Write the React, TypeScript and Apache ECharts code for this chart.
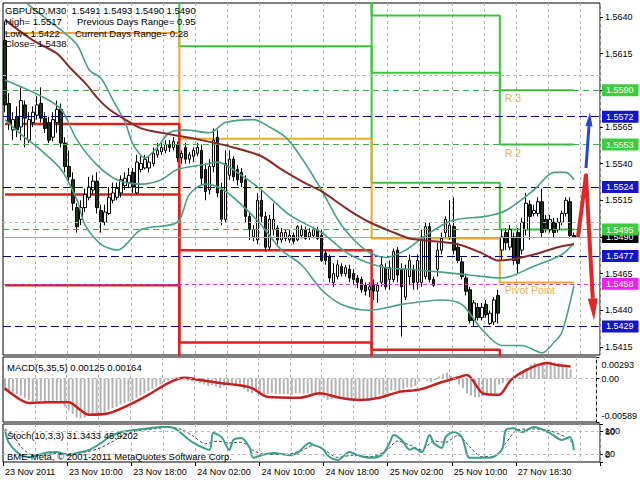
import React, { useEffect, useRef } from 'react';
import * as echarts from 'echarts';

// ---------- DATA ----------
const N = 149; // bar slots incl. right shift area
const barKeys: string[] = Array.from({ length: N }, (_, i) => String(i));

const timeTicks: [number, string][] = [
  [0, '23 Nov 2011'], [16, '23 Nov 10:00'], [32, '23 Nov 18:00'], [48, '24 Nov 02:00'],
  [64, '24 Nov 10:00'], [80, '24 Nov 18:00'], [96, '25 Nov 02:00'], [112, '25 Nov 10:00'], [128, '27 Nov 18:30'],
];

// [open, close, low, high]
const candles: number[][] = [
  [1.5624,1.5580,1.5575,1.5637],[1.5581,1.5568,1.5563,1.5588],[1.5563,1.5570,1.5556,1.5575],[1.5572,1.5563,1.5558,1.5579],
  [1.5565,1.5583,1.5556,1.5592],[1.5580,1.5571,1.5551,1.5583],[1.5556,1.5570,1.5554,1.5575],[1.5568,1.5575,1.5565,1.5579],
  [1.5573,1.5580,1.5570,1.5586],[1.5581,1.5571,1.5568,1.5592],[1.5571,1.5564,1.5561,1.5575],[1.5568,1.5556,1.5554,1.5572],
  [1.5558,1.5570,1.5555,1.5575],[1.5568,1.5577,1.5561,1.5583],[1.5577,1.5554,1.5551,1.5581],[1.5554,1.5538,1.5534,1.5558],
  [1.5538,1.5531,1.5527,1.5549],[1.5529,1.5513,1.5508,1.5534],[1.5510,1.5497,1.5493,1.5513],[1.5502,1.5510,1.5498,1.5515],
  [1.5510,1.5519,1.5507,1.5523],[1.5517,1.5524,1.5515,1.5531],[1.5522,1.5528,1.5519,1.5532],[1.5528,1.5510,1.5506,1.5534],
  [1.5508,1.5500,1.5493,1.5512],[1.5500,1.5507,1.5498,1.5512],[1.5506,1.5517,1.5505,1.5524],[1.5515,1.5520,1.5513,1.5527],
  [1.5517,1.5523,1.5515,1.5527],[1.5520,1.5529,1.5517,1.5532],[1.5525,1.5530,1.5522,1.5534],[1.5527,1.5532,1.5524,1.5537],
  [1.5534,1.5524,1.5520,1.5537],[1.5520,1.5541,1.5519,1.5546],[1.5536,1.5540,1.5534,1.5545],[1.5537,1.5543,1.5536,1.5546],
  [1.5537,1.5541,1.5534,1.5545],[1.5540,1.5547,1.5538,1.5551],[1.5546,1.5549,1.5544,1.5554],[1.5548,1.5551,1.5546,1.5554],
  [1.5549,1.5553,1.5547,1.5556],[1.5553,1.5551,1.5548,1.5556],[1.5551,1.5555,1.5549,1.5558],[1.5553,1.5544,1.5541,1.5555],
  [1.5544,1.5547,1.5540,1.5549],[1.5551,1.5543,1.5540,1.5554],[1.5543,1.5546,1.5540,1.5548],[1.5545,1.5549,1.5541,1.5551],
  [1.5547,1.5551,1.5545,1.5554],[1.5549,1.5530,1.5525,1.5553],[1.5536,1.5521,1.5515,1.5540],[1.5522,1.5538,1.5519,1.5543],
  [1.5538,1.5556,1.5534,1.5564],[1.5558,1.5520,1.5517,1.5563],[1.5522,1.5502,1.5498,1.5527],[1.5502,1.5540,1.5500,1.5549],
  [1.5532,1.5543,1.5529,1.5549],[1.5543,1.5531,1.5528,1.5545],[1.5536,1.5529,1.5525,1.5539],[1.5534,1.5527,1.5524,1.5537],
  [1.5529,1.5504,1.5500,1.5532],[1.5504,1.5495,1.5488,1.5507],[1.5490,1.5495,1.5487,1.5498],[1.5488,1.5515,1.5485,1.5520],
  [1.5515,1.5504,1.5500,1.5522],[1.5504,1.5483,1.5480,1.5507],[1.5483,1.5502,1.5481,1.5505],[1.5495,1.5502,1.5491,1.5513],
  [1.5496,1.5488,1.5485,1.5498],[1.5488,1.5493,1.5486,1.5496],[1.5489,1.5493,1.5487,1.5495],[1.5488,1.5491,1.5486,1.5495],
  [1.5491,1.5487,1.5485,1.5493],[1.5488,1.5497,1.5487,1.5498],[1.5491,1.5495,1.5489,1.5498],[1.5495,1.5489,1.5488,1.5497],
  [1.5490,1.5493,1.5488,1.5496],[1.5491,1.5495,1.5489,1.5497],[1.5495,1.5489,1.5488,1.5497],[1.5491,1.5474,1.5473,1.5495],
  [1.5479,1.5474,1.5471,1.5481],[1.5476,1.5462,1.5459,1.5478],[1.5459,1.5465,1.5456,1.5472],[1.5463,1.5471,1.5461,1.5474],
  [1.5470,1.5465,1.5463,1.5472],[1.5465,1.5469,1.5463,1.5471],[1.5468,1.5462,1.5459,1.5471],[1.5465,1.5461,1.5457,1.5468],
  [1.5462,1.5459,1.5455,1.5464],[1.5461,1.5454,1.5452,1.5463],[1.5457,1.5453,1.5450,1.5459],[1.5454,1.5456,1.5449,1.5459],
  [1.5457,1.5453,1.5447,1.5461],[1.5453,1.5457,1.5445,1.5459],[1.5459,1.5471,1.5456,1.5476],[1.5469,1.5456,1.5454,1.5472],
  [1.5461,1.5469,1.5454,1.5474],[1.5461,1.5480,1.5459,1.5482],[1.5481,1.5464,1.5459,1.5483],[1.5468,1.5456,1.5422,1.5472],
  [1.5449,1.5468,1.5447,1.5471],[1.5463,1.5474,1.5457,1.5478],[1.5468,1.5459,1.5454,1.5471],[1.5459,1.5474,1.5454,1.5478],
  [1.5459,1.5490,1.5456,1.5495],[1.5463,1.5497,1.5461,1.5500],[1.5497,1.5461,1.5459,1.5500],[1.5461,1.5457,1.5456,1.5463],
  [1.5468,1.5481,1.5463,1.5486],[1.5481,1.5489,1.5478,1.5493],[1.5493,1.5502,1.5490,1.5504],[1.5490,1.5498,1.5488,1.5515],
  [1.5497,1.5481,1.5478,1.5517],[1.5483,1.5474,1.5472,1.5486],[1.5473,1.5463,1.5461,1.5476],[1.5462,1.5453,1.5450,1.5465],
  [1.5454,1.5433,1.5431,1.5456],[1.5433,1.5445,1.5429,1.5447],[1.5442,1.5435,1.5433,1.5445],[1.5435,1.5442,1.5433,1.5445],
  [1.5444,1.5437,1.5435,1.5447],[1.5431,1.5438,1.5430,1.5440],[1.5432,1.5447,1.5430,1.5449],[1.5450,1.5438,1.5431,1.5454],
  [1.5481,1.5490,1.5474,1.5495],[1.5493,1.5486,1.5481,1.5496],[1.5483,1.5495,1.5481,1.5498],[1.5490,1.5474,1.5471,1.5493],
  [1.5493,1.5472,1.5465,1.5496],[1.5481,1.5500,1.5478,1.5503],[1.5495,1.5513,1.5491,1.5520],[1.5512,1.5504,1.5488,1.5515],
  [1.5506,1.5508,1.5504,1.5512],[1.5506,1.5514,1.5504,1.5517],[1.5514,1.5493,1.5490,1.5523],[1.5502,1.5495,1.5493,1.5505],
  [1.5495,1.5502,1.5493,1.5505],[1.5500,1.5493,1.5490,1.5503],[1.5495,1.5500,1.5493,1.5503],[1.5500,1.5506,1.5498,1.5508],
  [1.5506,1.5515,1.5504,1.5517],[1.5514,1.5491,1.5489,1.5517],[1.5491,1.5490,1.5490,1.5493],
];

// Bollinger bands & moving average, [bar, price]
const bbUpper: number[][] = [
  [0,1.5665],[6,1.5648],[14,1.5631],[18,1.5621],[21,1.5604],[24,1.5598],[27,1.5583],[30,1.5568],[32,1.5553],[35,1.5544],
  [38,1.5551],[41,1.5561],[45,1.5563],[51,1.5561],[55,1.5568],[62,1.5570],[66,1.5565],[70,1.5558],[74,1.5544],[79,1.5522],
  [84,1.5498],[90,1.5481],[95,1.5476],[100,1.5481],[104,1.5489],[109,1.5498],[113,1.5502],[120,1.5504],[125,1.5508],
  [132,1.5522],[137,1.5534],[140,1.5534],[142,1.5529],
];
const bbMiddle: number[][] = [
  [0,1.5597],[9,1.5586],[14,1.5577],[18,1.5556],[23,1.5539],[28,1.5529],[34,1.5526],[39,1.5529],[43,1.5536],[49,1.5539],
  [53,1.5541],[59,1.5532],[64,1.5522],[71,1.5505],[79,1.5493],[86,1.5478],[95,1.5469],[101,1.5468],[109,1.5466],
  [116,1.5464],[124,1.5462],[132,1.5470],[139,1.5478],[142,1.5486],
];
const bbLower: number[][] = [
  [0,1.5570],[4,1.5560],[9,1.5549],[14,1.5536],[18,1.5515],[20,1.5498],[24,1.5485],[28,1.5481],[34,1.5495],[43,1.5500],
  [46,1.5519],[50,1.5526],[54,1.5523],[59,1.5512],[64,1.5498],[69,1.5481],[74,1.5471],[79,1.5454],[84,1.5444],[91,1.5440],
  [99,1.5444],[109,1.5447],[114,1.5444],[119,1.5427],[124,1.5416],[129,1.5416],[134,1.5411],[137,1.5418],[139,1.5425],[142,1.5457],
];
const maLine: number[][] = [
  [0,1.5638],[7,1.5624],[13,1.5615],[16,1.5606],[20,1.5595],[23,1.5585],[26,1.5577],[30,1.5570],[34,1.5564],[39,1.5561],
  [49,1.5556],[57,1.5551],[64,1.5545],[69,1.5536],[74,1.5528],[79,1.5521],[86,1.5508],[91,1.5500],[97,1.5493],[101,1.5489],
  [107,1.5487],[113,1.5485],[119,1.5479],[123,1.5474],[127,1.5475],[132,1.5478],[138,1.5483],[142,1.5485],
];

// daily pivot levels (4 days), day starts at these bars
const dayStarts = [0, 44, 92, 124];
const dayEnd = 142;
const pivotP = [1.5629, 1.5557, 1.5489, 1.5459];
const pivotR1 = [1.5680, 1.5620, 1.5527, 1.5495];
const pivotR2 = [1.5720, 1.5690, 1.5602, 1.5553];
const pivotR3 = [1.5780, 1.5730, 1.5641, 1.5590];
const pivotS1 = [1.5567, 1.5481, 1.5413, 1.5380];
const pivotS2 = [1.5519, 1.5418, 1.5360, 1.5330];
const pivotS3 = [1.5457, 1.5380, 1.5320, 1.5290];

// horizontal price levels with right-axis tags
const levelPrices = [1.5490, 1.5590, 1.5572, 1.5553, 1.5524, 1.5495, 1.5477, 1.5458, 1.5429];
const levelKinds = ['price', 'green', 'blue', 'green', 'blue', 'green', 'blue', 'magenta', 'blue'];

const priceTicks = [1.5415, 1.5440, 1.5465, 1.5490, 1.5515, 1.5540, 1.5565, 1.5590, 1.5615, 1.5640];
const priceAxisLabels = [1.5415, 1.5440, 1.5465, 1.5515, 1.5540, 1.5565, 1.5615, 1.5640];
const priceMin = 1.54095;
const priceMax = 1.56495;

// forecast arrows [bar, price]
const redArrow: number[][] = [[143, 1.5490], [145, 1.5532], [147, 1.5433]];
const blueArrow: number[][] = [[145, 1.5537], [146, 1.5575]];

// MACD(5,35,5)
const macdHist: number[] = [
  -0.0017,-0.0018,-0.0019,-0.0021,-0.0023,-0.0026,-0.0029,-0.0031,-0.0031,-0.0030,
  -0.0031,-0.0032,-0.0031,-0.0030,-0.0033,-0.0038,-0.0043,-0.0048,-0.0053,-0.0054,
  -0.0053,-0.0051,-0.0049,-0.0048,-0.0049,-0.0046,-0.0043,-0.0040,-0.0038,-0.0035,
  -0.0033,-0.0031,-0.0030,-0.0026,-0.0023,-0.0020,-0.0017,-0.0014,-0.0011,-0.0008,
  -0.0005,-0.0003,0.0000,0.0002,0.0001,-0.0002,-0.0003,-0.0004,-0.0004,-0.0006,
  -0.0008,-0.0010,-0.0009,-0.0011,-0.0013,-0.0010,-0.0009,-0.0009,-0.0010,-0.0011,
  -0.0014,-0.0018,-0.0020,-0.0017,-0.0019,-0.0023,-0.0021,-0.0019,-0.0021,-0.0021,
  -0.0021,-0.0021,-0.0022,-0.0020,-0.0020,-0.0021,-0.0020,-0.0020,-0.0021,-0.0024,
  -0.0026,-0.0029,-0.0028,-0.0027,-0.0027,-0.0026,-0.0027,-0.0028,-0.0029,-0.0029,
  -0.0029,-0.0028,-0.0028,-0.0027,-0.0022,-0.0023,-0.0020,-0.0016,-0.0016,-0.0018,
  -0.0014,-0.0012,-0.0012,-0.0010,-0.0004,0.0001,-0.0003,-0.0005,-0.0002,0.0003,
  0.0006,0.0008,0.0004,-0.0002,-0.0008,-0.0013,-0.0020,-0.0023,-0.0025,-0.0025,
  -0.0024,-0.0023,-0.0020,-0.0020,-0.0008,-0.0006,-0.0003,-0.0002,0.0004,0.0002,
  0.0010,0.0014,0.0019,0.0021,0.0020,0.0022,0.0023,0.0023,0.0022,0.0021,
  0.0019,0.0015,0.00125,
];
const macdSignal: number[][] = [
  [0,-0.0013],[1,-0.0018],[6,-0.0033],[11,-0.0032],[16,-0.0032],[19,-0.0043],[21,-0.0049],[26,-0.0047],[31,-0.0036],
  [36,-0.0022],[41,-0.0006],[45,0.0001],[49,-0.0002],[54,-0.0006],[59,-0.0009],[62,-0.0013],[66,-0.0025],[74,-0.0026],
  [79,-0.0020],[84,-0.0026],[89,-0.0029],[94,-0.0026],[99,-0.0018],[104,-0.0015],[109,-0.0006],[114,0.0002],[116,0.0005],
  [120,-0.0020],[124,-0.0022],[127,-0.0002],[131,0.0012],[136,0.0021],[139,0.0018],[142,0.00164],
];
const macdMax = 0.00293;
const macdMin = -0.00589;

// Stochastic(10,3,3)
const stochMain: number[][] = [
  [0,84],[1,50],[4,18],[6,13],[10,24],[13,26],[16,18],[18,24],[21,32],[24,50],[26,66],[29,79],[32,84],[36,89],[39,92],
  [41,92],[43,84],[46,58],[48,45],[51,32],[52,76],[54,66],[56,32],[57,58],[59,63],[61,39],[62,11],[64,18],[67,24],[71,18],
  [73,24],[76,50],[77,45],[79,37],[81,13],[83,5],[86,26],[88,18],[91,11],[94,18],[96,50],[97,71],[99,58],[101,32],[102,37],
  [104,26],[106,71],[107,50],[109,37],[110,66],[112,79],[114,66],[116,11],[119,11],[121,11],[124,32],[125,84],[127,89],
  [129,79],[132,92],[136,76],[139,58],[141,66],[142,31],
];
const stochSignal: number[][] = [
  [0,88],[2,70],[4,40],[6,22],[8,16],[12,22],[16,22],[20,26],[24,38],[27,55],[30,72],[33,82],[37,87],[41,91],[44,86],
  [47,68],[50,48],[53,55],[56,50],[59,52],[62,30],[65,20],[70,20],[74,30],[77,44],[80,30],[83,12],[87,18],[91,14],[95,28],
  [98,55],[101,45],[104,32],[107,55],[110,52],[113,70],[116,40],[119,14],[122,14],[125,50],[128,85],[132,87],[136,82],
  [140,65],[142,46],
];
const stochRange = [0, 100];
const stochLevels = [20, 80];

// ---------- STYLE HELPERS ----------
const FONT = 'Liberation Sans';
const levelStyle: Record<string, { line: string; type: any; bg: string; fg: string }> = {
  price: { line: '#a8a8a8', type: 'solid', bg: '#000000', fg: '#ffffff' },
  green: { line: '#3cb043', type: [6, 4], bg: '#3ccc3c', fg: '#ffffff' },
  blue: { line: '#00007a', type: [8, 4], bg: '#1414c8', fg: '#ffffff' },
  magenta: { line: '#d040d0', type: [4, 3], bg: '#f020f0', fg: '#ffffff' },
};

function stepData(levels: number[]): number[][] {
  const out: number[][] = [];
  levels.forEach((v, d) => {
    const start = dayStarts[d];
    const end = d + 1 < dayStarts.length ? dayStarts[d + 1] - 1 : dayEnd;
    out.push([start, v], [end, v]);
  });
  return out;
}

function pivotSeries(name: string, levels: number[], color: string, width: number, tag?: string) {
  const s: any = {
    name, type: 'line', xAxisIndex: 0, yAxisIndex: 0, step: 'middle', showSymbol: false, silent: true,
    data: stepData(levels), lineStyle: { color, width }, z: 3,
  };
  if (tag) {
    s.markPoint = {
      symbol: 'circle', symbolSize: 0, silent: true,
      data: [{ coord: [dayStarts[3] + 1, levels[3]], label: {
        show: true, formatter: tag, position: 'right', distance: 0, offset: [-1, 8],
        color: '#e8b050', fontSize: 10.5, fontFamily: FONT,
      } }],
    };
  }
  return s;
}

function arrowSeries(points: number[][], color: string, width: number, headLen: number, headW: number) {
  return {
    type: 'custom', xAxisIndex: 0, yAxisIndex: 0, silent: true, z: 6,
    data: [points[points.length - 1]],
    renderItem: (_p: any, api: any) => {
      const pts = points.map((p) => api.coord(p));
      const a = pts[pts.length - 2];
      const b = pts[pts.length - 1];
      const ang = Math.atan2(b[1] - a[1], b[0] - a[0]);
      const base = [b[0] - headLen * Math.cos(ang), b[1] - headLen * Math.sin(ang)];
      const nx = -Math.sin(ang) * headW / 2;
      const ny = Math.cos(ang) * headW / 2;
      return {
        type: 'group',
        children: [
          { type: 'polyline', shape: { points: [...pts.slice(0, -1), base] }, style: { stroke: color, lineWidth: width, fill: null, lineJoin: 'round' } },
          { type: 'polygon', shape: { points: [b, [base[0] + nx, base[1] + ny], [base[0] - nx, base[1] - ny]] }, style: { fill: color } },
        ],
      };
    },
  };
}

const tickSet = new Set(timeTicks.map((t) => t[0]));
const tickText: Record<number, string> = {};
timeTicks.forEach(([i, t]) => { tickText[i] = t; });

function catAxis(gridIndex: number, showLabels: boolean) {
  return {
    type: 'category', gridIndex, data: barKeys, boundaryGap: true,
    axisLine: { show: false },
    axisTick: showLabels
      ? { show: true, interval: (i: number) => tickSet.has(i), length: 4, lineStyle: { color: '#000' } }
      : { show: false },
    axisLabel: showLabels
      ? {
          show: true, interval: (i: number) => tickSet.has(i), formatter: (_v: string, i: number) => tickText[i] || '',
          align: 'left', margin: 5, fontSize: 9, color: '#000', fontFamily: FONT,
        }
      : { show: false },
    splitLine: { show: true, interval: (i: number) => i > 0 && i % 8 === 0, lineStyle: { color: '#b8b8b8', type: [3, 3], width: 1 } },
  };
}

// rich styles shift the edge labels inside their panel, as the terminal does
const edgeRich = (top: number, bottom: number) => ({
  t: { fontSize: 9, fontFamily: FONT, color: '#000', padding: [top, 0, 0, 0] },
  b: { fontSize: 9, fontFamily: FONT, color: '#000', padding: [0, 0, bottom, 0] },
  m: { fontSize: 9, fontFamily: FONT, color: '#000' },
});

const gridStyle = { show: true, borderColor: '#000', borderWidth: 1, backgroundColor: '#fff' };

export default function App() {
  const ref = useRef<HTMLDivElement>(null);
  useEffect(() => {
    if (!ref.current) return;
    const chart = echarts.init(ref.current, null, { renderer: 'svg' });
    const option: any = {
      animation: false,
      backgroundColor: '#fff',
      textStyle: { fontFamily: FONT },
      grid: [
        { left: 3, top: 3, width: 597, height: 352, ...gridStyle },
        { left: 3, top: 357, width: 597, height: 65, ...gridStyle },
        { left: 3, top: 424, width: 597, height: 38, ...gridStyle },
      ],
      xAxis: [catAxis(0, false), catAxis(1, false), catAxis(2, true)],
      yAxis: [
        {
          type: 'value', gridIndex: 0, position: 'right', min: priceMin, max: priceMax, scale: true,
          axisLine: { show: false },
          axisTick: { show: true, customValues: priceTicks, length: 3, lineStyle: { color: '#000' } },
          axisLabel: { customValues: priceAxisLabels, formatter: (v: number) => v.toFixed(4), fontSize: 9, margin: 5, color: '#000', fontFamily: FONT },
          splitLine: { show: false },
        },
        {
          type: 'value', gridIndex: 1, position: 'right', min: macdMin, max: macdMax,
          axisLine: { show: false },
          axisTick: { show: true, customValues: [macdMax, 0, macdMin], length: 3, lineStyle: { color: '#000' } },
          axisLabel: {
            customValues: [macdMax, 0, macdMin], margin: 5, showMinLabel: true, showMaxLabel: true,
            formatter: (v: number) => (v === 0 ? '{m|0.00}' : v > 0 ? `{t|${v.toFixed(5)}}` : `{b|${v.toFixed(5)}}`),
            rich: edgeRich(16, 12),
          },
          splitLine: { show: false },
        },
        {
          type: 'value', gridIndex: 2, position: 'right', min: 0, max: 100,
          axisLine: { show: false },
          axisTick: { show: true, customValues: [...stochRange, ...stochLevels], length: 3, lineStyle: { color: '#000' } },
          axisLabel: {
            customValues: stochRange, margin: 5, showMinLabel: true, showMaxLabel: true,
            formatter: (v: number) => (v === 100 ? `{t|${v}}` : `{b|${v}}`),
            rich: edgeRich(14, 14),
          },
          splitLine: { show: false },
        },
        {
          type: 'value', gridIndex: 2, position: 'right', min: 0, max: 100,
          axisLine: { show: false }, axisTick: { show: false },
          axisLabel: {
            customValues: stochLevels, margin: 5, showMinLabel: true, showMaxLabel: true,
            fontSize: 9, fontFamily: FONT, color: '#000',
          },
          splitLine: { show: false },
        },
      ],
      series: [
        {
          name: 'grid', type: 'line', xAxisIndex: 0, yAxisIndex: 0, data: [], silent: true, z: 1,
          markLine: {
            silent: true, symbol: ['none', 'none'], label: { show: false },
            lineStyle: { color: '#b8b8b8', type: [3, 3], width: 1 },
            data: priceTicks.map((p) => ({ yAxis: p })),
          },
        },
        {
          name: 'levels', type: 'line', xAxisIndex: 0, yAxisIndex: 0, data: [], silent: true, z: 2,
          markLine: {
            silent: true, symbol: ['none', 'none'], precision: 4,
            data: levelPrices.map((p, i) => {
              const st = levelStyle[levelKinds[i]];
              return {
                yAxis: p,
                lineStyle: { color: st.line, type: st.type, width: 1 },
                label: {
                  show: true, position: 'end', distance: 2, formatter: p.toFixed(4),
                  color: st.fg, backgroundColor: st.bg, padding: [2, 5, 1, 4], fontSize: 9, fontFamily: FONT,
                },
              };
            }),
          },
        },
        pivotSeries('R3', pivotR3, '#3cc43c', 2, 'R 3'),
        pivotSeries('R2', pivotR2, '#3cc43c', 2, 'R 2'),
        pivotSeries('R1', pivotR1, '#3cc43c', 2),
        pivotSeries('P', pivotP, '#f0a830', 2, 'Pivot Point'),
        pivotSeries('S1', pivotS1, '#dd2020', 2.5),
        pivotSeries('S2', pivotS2, '#dd2020', 2.5),
        pivotSeries('S3', pivotS3, '#dd2020', 2.5),
        {
          name: 'GBPUSD', type: 'candlestick', xAxisIndex: 0, yAxisIndex: 0, data: candles, barWidth: 3, z: 4,
          itemStyle: { color: '#ffffff', color0: '#1c361c', borderColor: '#000', borderColor0: '#000', borderWidth: 1 },
        },
        ...[bbUpper, bbMiddle, bbLower].map((d) => ({
          type: 'line', xAxisIndex: 0, yAxisIndex: 0, data: d, showSymbol: false, smooth: 0.3, silent: true, z: 5,
          lineStyle: { color: '#48a088', width: 1.6 },
        })),
        {
          type: 'line', xAxisIndex: 0, yAxisIndex: 0, data: maLine, showSymbol: false, smooth: 0.3, silent: true, z: 5,
          lineStyle: { color: '#8a2b2b', width: 2 },
        },
        arrowSeries(redArrow, '#e02828', 4, 22, 10),
        arrowSeries(blueArrow, '#2846d0', 3, 14, 7),
        {
          type: 'bar', xAxisIndex: 1, yAxisIndex: 1, data: macdHist, barWidth: 2, silent: true, z: 2,
          itemStyle: { color: '#b4b4b4' },
          markLine: {
            silent: true, symbol: ['none', 'none'], label: { show: false },
            lineStyle: { color: '#b8b8b8', type: [3, 3], width: 1 }, data: [{ yAxis: 0 }],
          },
        },
        {
          type: 'line', xAxisIndex: 1, yAxisIndex: 1, data: macdSignal, showSymbol: false, smooth: 0.3, silent: true, z: 3,
          lineStyle: { color: '#c42020', width: 2.5 },
        },
        {
          type: 'line', xAxisIndex: 2, yAxisIndex: 2, data: stochSignal, showSymbol: false, smooth: 0.3, silent: true, z: 2,
          lineStyle: { color: '#444', width: 1, type: [3, 2] },
          markLine: {
            silent: true, symbol: ['none', 'none'], label: { show: false },
            lineStyle: { color: '#b8b8b8', type: [3, 3], width: 1 }, data: stochLevels.map((v) => ({ yAxis: v })),
          },
        },
        {
          type: 'line', xAxisIndex: 2, yAxisIndex: 2, data: stochMain, showSymbol: false, smooth: 0.3, silent: true, z: 3,
          lineStyle: { color: '#3a9e8c', width: 2 },
        },
      ],
      graphic: [
        { type: 'text', left: 5, top: 5, z: 100, style: { text: 'GBPUSD,M30  1.5491 1.5493 1.5490 1.5490', font: `9.5px "${FONT}"`, fill: '#000' } },
        { type: 'text', left: 5, top: 16, z: 100, style: { text: 'High= 1.5517', font: `9.5px "${FONT}"`, fill: '#000' } },
        { type: 'text', left: 77, top: 16, z: 100, style: { text: 'Previous Days Range= 0.95', font: `9.5px "${FONT}"`, fill: '#000' } },
        { type: 'text', left: 5, top: 28, z: 100, style: { text: 'Low= 1.5422', font: `9.5px "${FONT}"`, fill: '#000' } },
        { type: 'text', left: 75, top: 28, z: 100, style: { text: 'Current Days Range= 0.28', font: `9.5px "${FONT}"`, fill: '#000' } },
        { type: 'text', left: 5, top: 38, z: 100, style: { text: 'Close= 1.5438', font: `9.5px "${FONT}"`, fill: '#000' } },
        { type: 'text', left: 7, top: 362, z: 100, style: { text: 'MACD(5,35,5) 0.00125 0.00164', font: `9.5px "${FONT}"`, fill: '#000' } },
        { type: 'text', left: 7, top: 430, z: 100, style: { text: 'Stoch(10,3,3) 31.3433 45.9202', font: `9.5px "${FONT}"`, fill: '#000' } },
        { type: 'text', left: 7, top: 451, z: 100, style: { text: 'BME-Meta, © 2001-2011 MetaQuotes Software Corp.', font: `9.5px "${FONT}"`, fill: '#000' } },
      ],
    };
    chart.setOption(option);
    return () => chart.dispose();
  }, []);
  return <div ref={ref} style={{ position: 'absolute', left: 0, top: 0, width: 640, height: 480, background: '#fff' }} />;
}
